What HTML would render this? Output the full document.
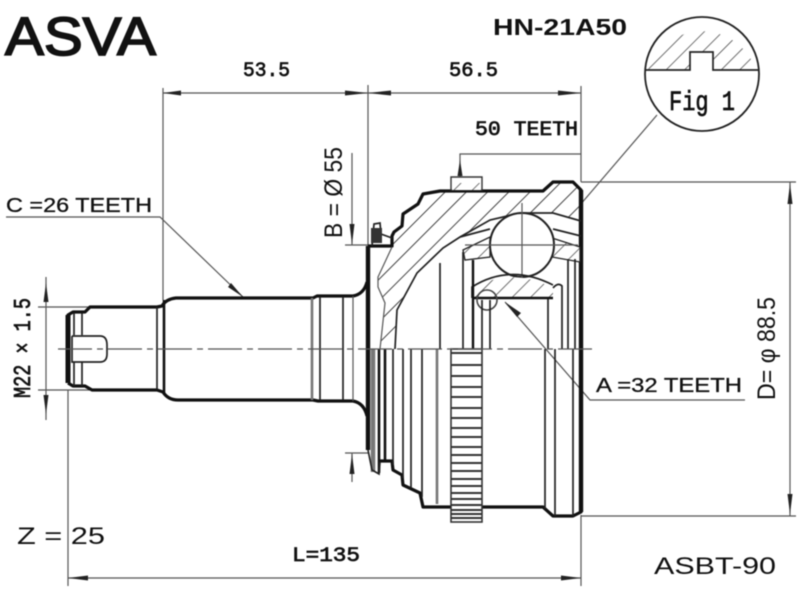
<!DOCTYPE html>
<html><head><meta charset="utf-8"><style>
html,body{margin:0;padding:0;background:#fff}
svg{display:block;filter:blur(.55px)}
.s{font-family:"Liberation Sans",sans-serif;fill:#111}
.m{font-family:"Liberation Mono",monospace;fill:#111;font-size:20px;stroke:#111;stroke-width:.7}
.t{fill:none;stroke:#111;stroke-width:3.2;stroke-linejoin:round}
.n{fill:none;stroke:#222;stroke-width:1.7}
.d{fill:none;stroke:#555;stroke-width:1.2}
.c{fill:none;stroke:#555;stroke-width:1.2;stroke-dasharray:34 5 6 5}
.g{fill:none;stroke:#777;stroke-width:2.6}
</style></head><body>
<svg width="800" height="600" viewBox="0 0 800 600" xmlns="http://www.w3.org/2000/svg">
<defs>
<pattern id="h" width="15" height="15" patternUnits="userSpaceOnUse" patternTransform="rotate(45)"><rect width="15" height="15" fill="#fff"/><line x1="0" y1="0" x2="0" y2="15" stroke="#444" stroke-width="2"/></pattern>
<pattern id="h2" width="13" height="13" patternUnits="userSpaceOnUse" patternTransform="rotate(45)"><rect width="13" height="13" fill="#fff"/><line x1="0" y1="0" x2="0" y2="13" stroke="#444" stroke-width="1.5"/></pattern>
</defs>
<rect width="800" height="600" fill="#fff"/>

<!-- header text -->
<text class="s" x="5" y="55" font-size="54" stroke="#111" stroke-width="1.7" textLength="151" lengthAdjust="spacingAndGlyphs">ASVA</text>
<text class="s" x="493" y="35" font-size="23" font-weight="bold" textLength="134" lengthAdjust="spacingAndGlyphs">HN-21A50</text>
<text class="m" x="243" y="76" textLength="47" lengthAdjust="spacingAndGlyphs">53.5</text>
<text class="m" x="449" y="76" textLength="49" lengthAdjust="spacingAndGlyphs">56.5</text>
<text class="m" x="475" y="135" textLength="103" lengthAdjust="spacingAndGlyphs">50 TEETH</text>
<text class="s" x="6" y="212" font-size="20" stroke="#111" stroke-width=".3" textLength="146" lengthAdjust="spacingAndGlyphs">C =26 TEETH</text>
<text class="s" x="596" y="392" font-size="20" stroke="#111" stroke-width=".3" textLength="146" lengthAdjust="spacingAndGlyphs">A =32 TEETH</text>
<text class="s" x="17" y="544" font-size="24" textLength="88" lengthAdjust="spacingAndGlyphs">Z = 25</text>
<text class="m" x="292" y="561" textLength="68" lengthAdjust="spacingAndGlyphs">L=135</text>
<text class="s" x="654" y="574" font-size="24" textLength="122" lengthAdjust="spacingAndGlyphs">ASBT-90</text>
<text class="s" font-size="25" transform="translate(342,238) rotate(-90)" textLength="91" lengthAdjust="spacingAndGlyphs">B = Ø 55</text>
<text class="m" style="font-size:24px" transform="translate(30,398) rotate(-90)" textLength="100" lengthAdjust="spacingAndGlyphs">M22 × 1.5</text>
<text class="s" font-size="25" transform="translate(775,400) rotate(-90)" textLength="103" lengthAdjust="spacingAndGlyphs">D= φ 88.5</text>

<!-- dimension lines -->
<g class="d">
<path d="M163 88V300M368 85V246M581 86V182"/>
<path d="M163 93H581"/>
<path d="M68 390V586M581 515V586M68 578H581"/>
<path d="M581 182H796M581 516H796M790 182V516"/>
<path d="M352 153V245M352 453V482M345 245H368M345 453H368"/>
<path d="M46 277V420M38 307H90M38 390H90"/>
<path d="M6 217H160L243 297"/>
<path d="M745 400H590L505 302"/>
<path d="M460 178V154H581"/>
<path d="M657 115L580 205"/>
</g>
<g fill="#222">
<path d="M163 93l18-2.5v5zM368 93l-23-2.5v5zM368 93l23-2.5v5zM581 93l-23-2.5v5z"/>
<path d="M68 578l20-2.5v5zM581 578l-20-2.5v5z"/>
<path d="M790 184l-2.5 20h5zM790 514l-2.5-20h5z"/>
<path d="M352 244l-2.5-20h5zM352 454l-2.5 20h5z"/>
<path d="M46 283l-2.5 19h5zM46 414l-2.5-19h5z"/>
<path d="M243 297l-15-10 3-4zM505 302l16 11-4 4z"/>
<path d="M460 160l-2.5 16h5z"/>
</g>

<!-- Fig 1 -->
<circle cx="702" cy="74" r="57" fill="#fff" stroke="#222" stroke-width="1.8"/>
<path d="M648 70A57 57 0 0 1 756 70H713V52H690V70Z" fill="url(#h2)"/>
<path d="M646 70H690V52H713V70H758" class="n"/>
<text class="m" x="669" y="110" style="font-size:28px" textLength="66" lengthAdjust="spacingAndGlyphs">Fig 1</text>

<!-- shaft -->
<path class="t" d="M68 383V315L73 312H85L90 307H157L162 306Q166 299 176 298H313L317 296H353Q364 294 367 282"/>
<path class="t" d="M68 383L73 386H85L92 390H157L163 392Q168 400 178 400H313L318 401H353Q364 403 367 416"/>
<path d="M68 315V383" stroke="#111" stroke-width="5" fill="none"/>
<path class="n" d="M72 336H100Q107 336 107 345V354Q107 362 100 362H72V336"/>
<path class="n" d="M74 313V335M82 313V335M74 362V386M82 362V386"/>
<path class="n" d="M157 307V389M320 297V400M343 297V400"/>
<path d="M164 300V394" stroke="#111" stroke-width="2.6"/>
<path class="g" d="M312 298V400"/>
<path class="d" d="M353 296V401"/>

<!-- hatched body -->
<path fill="url(#h)" d="M392 247L393 232 402 225 403 213 418 203 423 193 440 191H543L553 182H573L581 190V221L553 213H520L490 220 460 237 443 248 417 273 397 310 395 349H380L385 303 378 287V277Z"/>
<path class="t" d="M368 246H392V236L394 232 402 226 403 214 418 204 423 194 440 191H543L553 182H573L581 190V512L573 516H553L543 507H423L420 493 403 485 402 475 393 470 392 461H380"/>
<path d="M581 190V512M368 246V450" stroke="#111" stroke-width="4.4" fill="none"/>
<path class="n" d="M581 221L553 213H520L490 220 460 237 443 248 417 273 397 310 395 349"/>
<path class="d" d="M392 247L378 277V287L385 303 380 349"/>
<path class="n" d="M372 246L374 224 380 223 381 234 392 238"/>
<path d="M371 228H382V243H371Z" fill="#333"/>

<!-- key -->
<path d="M451 177H482V190H451Z" fill="#fff" stroke="#333" stroke-width="1.4"/>
<path d="M452 183H481V190H452Z" fill="url(#h2)"/>

<!-- cage -->
<path d="M463 250L490 237V257L465 260Z" fill="url(#h2)" stroke="#222" stroke-width="1.3"/>
<path d="M552 238L580 247V262L552 257Z" fill="url(#h2)" stroke="#222" stroke-width="1.3"/>
<path d="M460 237L490 229M553 229L581 236" class="n"/>

<!-- ball -->
<circle cx="522" cy="245" r="32" fill="#fff" stroke="#222" stroke-width="2"/>
<path class="d" d="M522 203V287M465 245H578"/>

<!-- inner race -->
<path d="M472 298V289Q510 266 553 288V298Z" fill="url(#h2)"/>
<path class="n" d="M472 298V287Q510 263 553 285"/>
<path d="M472 298H553" stroke="#111" stroke-width="2.6"/>
<path d="M553 288Q558 282 562 286V349" class="n"/>
<circle cx="487" cy="300" r="10" fill="none" stroke="#444" stroke-width="1.6"/>
<path class="n" d="M482 300V349M490 300V349M548 299V349M463 252V349M440 263V349M568 259V349M575 259V349"/>
<path d="M473 260V349" stroke="#111" stroke-width="2.4"/>

<!-- lower body verticals -->
<path d="M373 349V472" stroke="#777" stroke-width="4.5"/>
<path d="M379 349V473M385 349V461" stroke="#111" stroke-width="2.6"/>
<path class="n" d="M393 349V465M403 349V478M411 349V488M422 349V497M545 349V509M555 349V516M573 349V516"/>
<path class="g" d="M437 349V504"/>
<path class="n" d="M368 450L372 470 379 474 380 462"/>

<!-- ABS ring -->
<rect x="451" y="349" width="31" height="173" fill="#fff" stroke="#333" stroke-width="1.6"/>
<path stroke="#333" stroke-width="2" d="M451 353H482M451 365H482M451 376H482M451 387H482M451 397H482M451 408H482M451 418H482M451 428H482M451 437H482M451 447H482M451 455H482M451 463H482M451 471H482M451 479H482M451 486H482M451 493H482M451 499H482M451 505H482M451 510H482M451 514H482M451 518H482"/>

<!-- centre line -->
<path class="c" d="M58 349H595"/>
</svg>
</body></html>
